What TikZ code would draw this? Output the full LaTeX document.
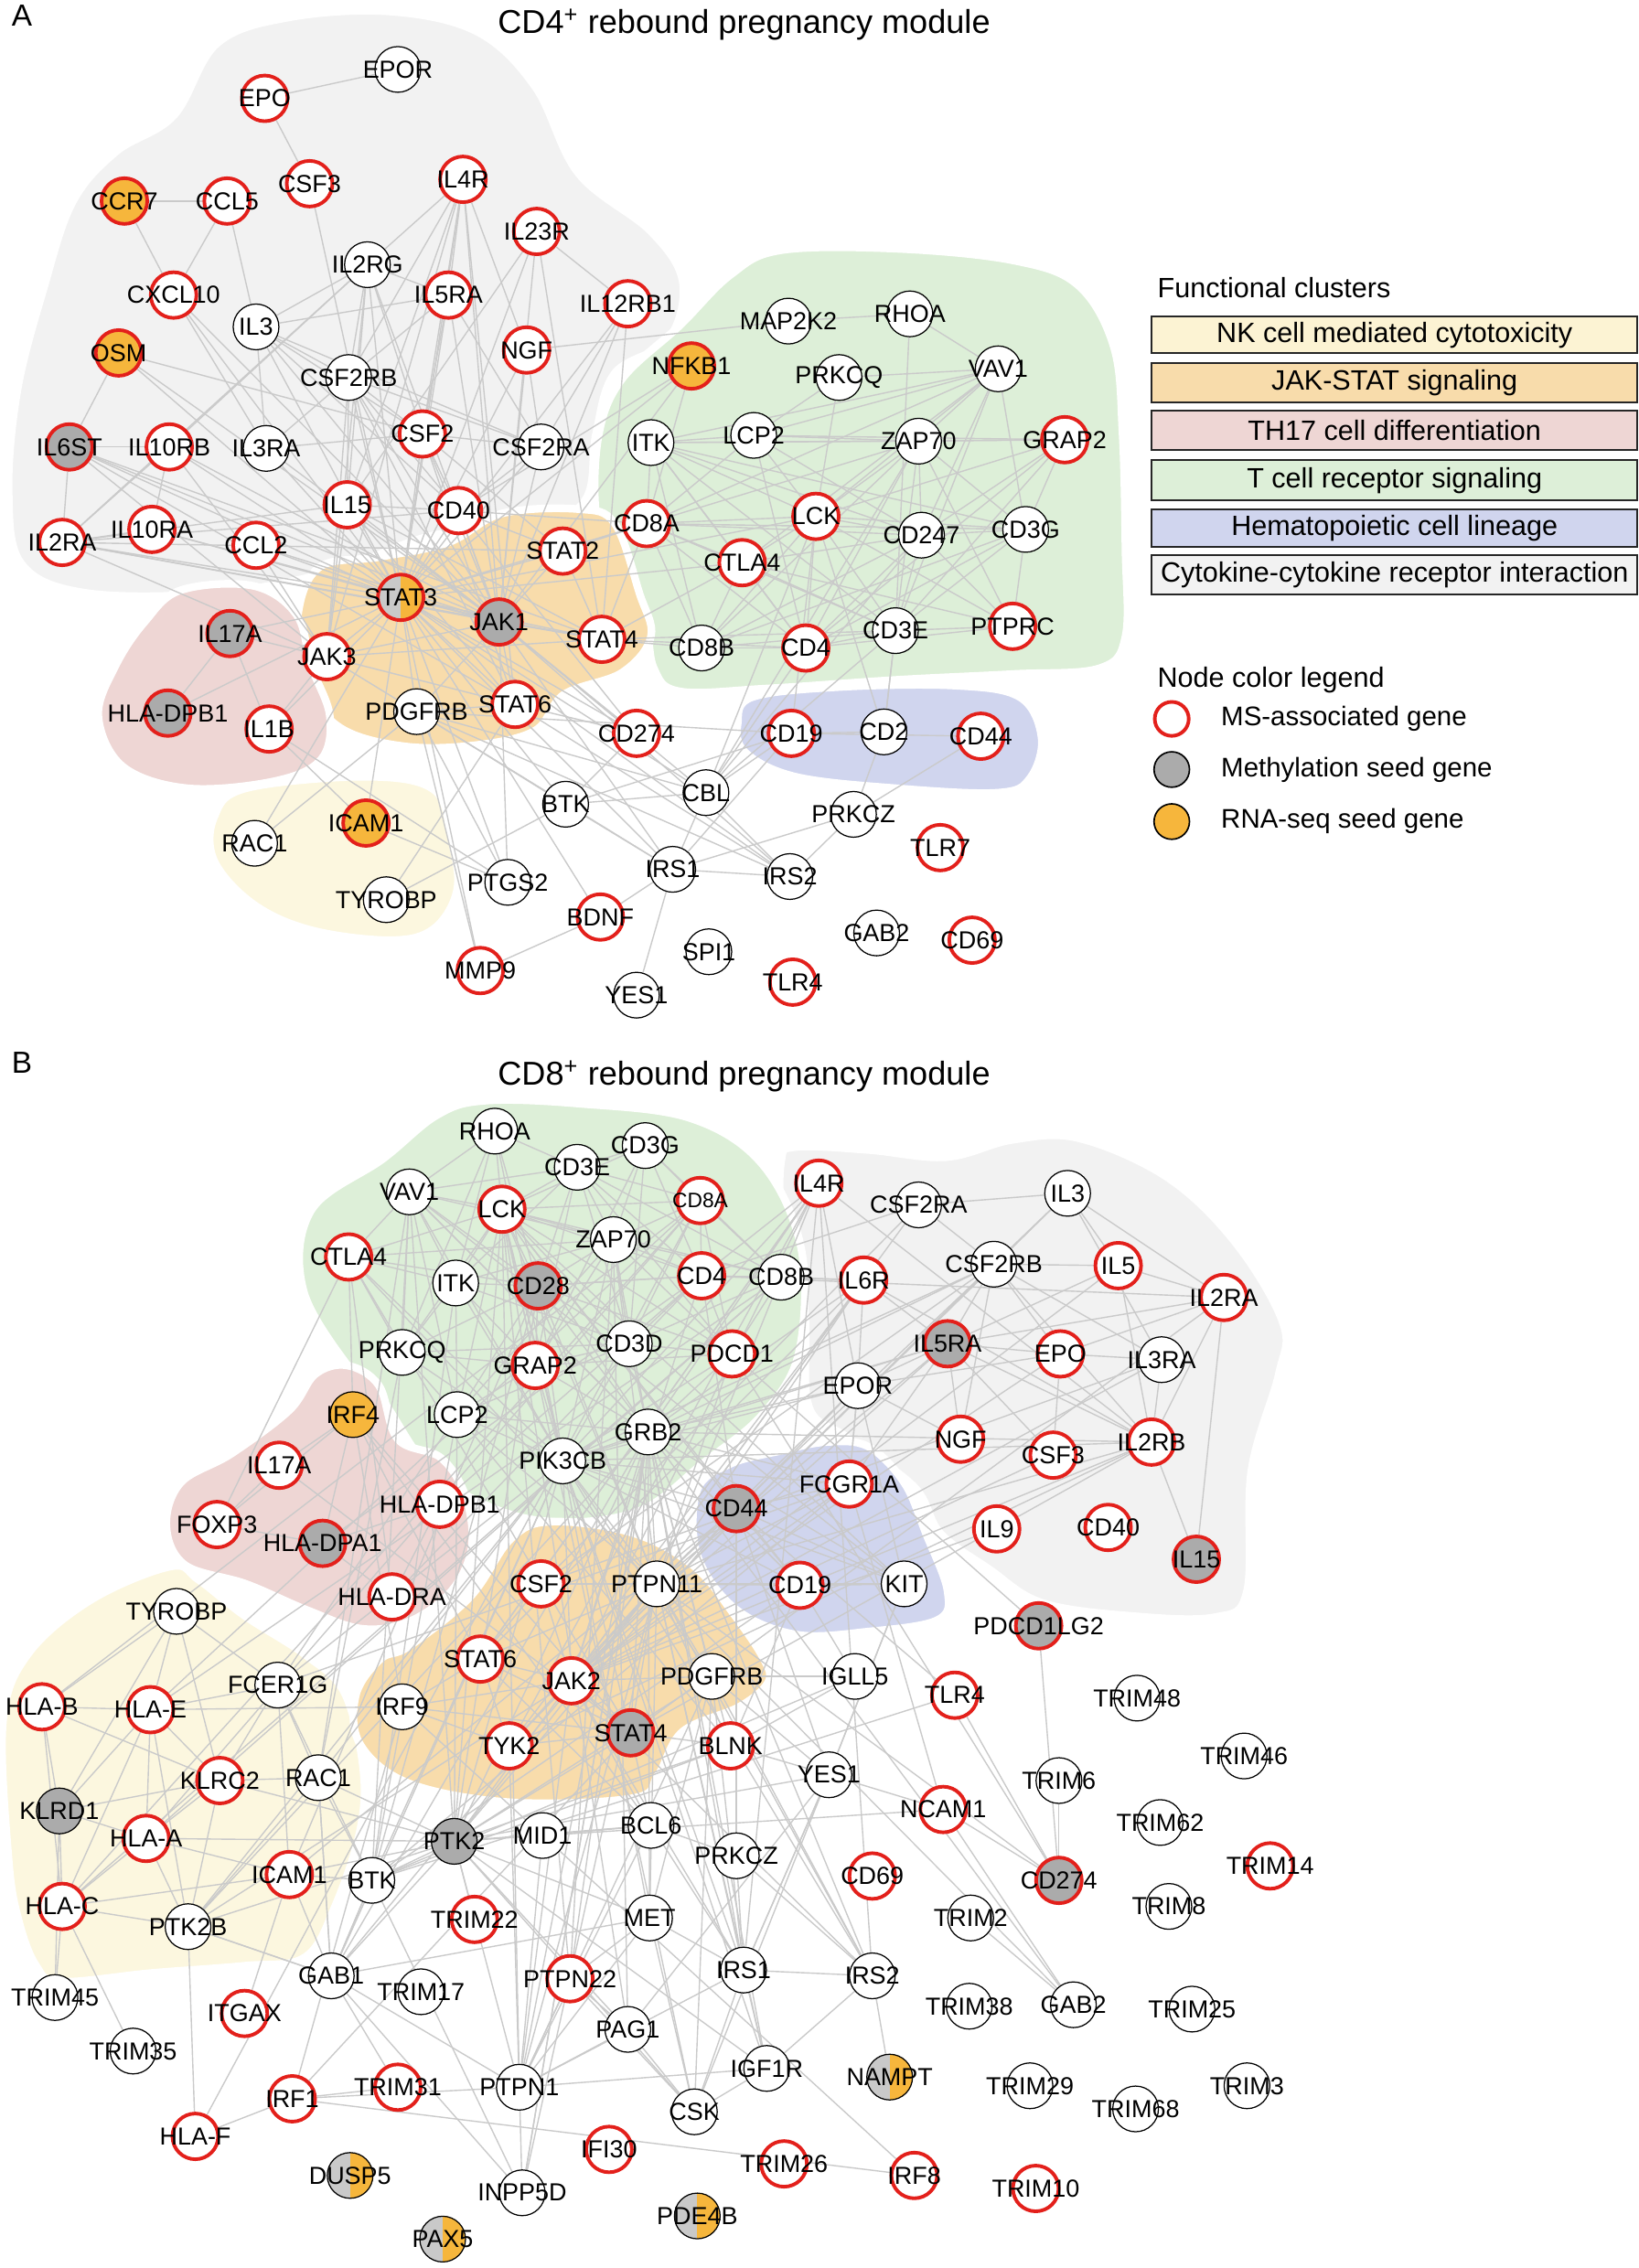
\documentclass[tikz,border=0pt]{standalone}
\usepackage{fontspec}
\setmainfont{Liberation Sans}
\pgfdeclarelayer{blobs}
\pgfdeclarelayer{edges}
\pgfsetlayers{blobs,edges,main}
\definecolor{msred}{HTML}{E3201B}
\definecolor{methgray}{HTML}{ABABAB}
\definecolor{halfgray}{HTML}{C9C9C9}
\definecolor{rnaorange}{HTML}{F6B63C}
\definecolor{edgegray}{HTML}{CACACA}
\definecolor{blobgray}{HTML}{F2F2F2}
\definecolor{blobgreen}{HTML}{DDEFD8}
\definecolor{bloborange}{HTML}{F8DCAB}
\definecolor{blobpink}{HTML}{EED6D4}
\definecolor{blobblue}{HTML}{D0D5EE}
\definecolor{blobyellow}{HTML}{FCF7DF}
\definecolor{boxyellow}{HTML}{FCF3D3}
\newcommand{\glab}[1]{\makebox[0pt][c]{#1}}
\tikzset{
  gn/.style={circle, draw=black, line width=0.45pt, fill=white, minimum size=0.632cm, inner sep=0pt, font=\fontsize{9.7}{11}\selectfont},
  kw/.style={},
  kr/.style={draw=msred, line width=1.4pt},
  kro/.style={draw=msred, line width=1.4pt, fill=rnaorange},
  krm/.style={draw=msred, line width=1.4pt, fill=methgray},
  krh/.style={draw=msred, line width=1.4pt, halfpic},
  km/.style={fill=methgray},
  ko/.style={fill=rnaorange},
  kh/.style={halfpic},
  halfpic/.style={path picture={\fill[halfgray] (path picture bounding box.south west) rectangle (path picture bounding box.north); \fill[rnaorange] (path picture bounding box.south) rectangle (path picture bounding box.north east);}},
  lnk/.style={draw=edgegray, line width=0.5pt},
  blob/.style={draw=white, line width=3pt, line join=round},
  lbox/.style={draw=black!85, line width=0.7pt, minimum width=6.72cm, inner sep=0pt, font=\fontsize{11}{13}\selectfont},
  ltxt/.style={anchor=west, font=\fontsize{10.6}{12}\selectfont},
  ttl/.style={anchor=west, font=\fontsize{13}{15}\selectfont},
}
\begin{document}
\begin{tikzpicture}[x=0.02cm,y=-0.02cm]
\useasboundingbox (0,0) rectangle (1133,1568);
\begin{pgfonlayer}{blobs}
\fill[white] (0,0) rectangle (1133,1568);
% Panel A blobs
\path[blob, fill=blobgray] plot[smooth cycle, tension=0.6] coordinates {(150,30) (200,12) (270,8) (330,22) (370,60) (400,120) (450,160) (472,195) (462,235) (425,258) (412,300) (405,345) (370,365) (300,370) (230,395) (150,410) (60,410) (15,390) (6,340) (12,270) (30,200) (50,140) (80,105) (120,80)};
\path[blob, fill=blobgreen] plot[smooth cycle, tension=0.6] coordinates {(505,190) (540,173) (620,172) (700,180) (745,197) (770,240) (776,300) (778,380) (778,440) (760,462) (700,466) (620,470) (530,476) (470,478) (452,462) (445,425) (425,395) (412,355) (414,300) (430,262) (470,225)};
\path[blob, fill=bloborange] plot[smooth cycle, tension=0.6] coordinates {(206,425) (221,392) (263,385) (310,375) (347,355) (400,352) (425,362) (442,410) (450,440) (430,465) (390,480) (370,505) (330,515) (280,516) (235,503) (210,470)};
\path[blob, fill=blobpink] plot[smooth cycle, tension=0.6] coordinates {(125,408) (175,405) (205,425) (215,460) (228,495) (222,525) (190,540) (130,545) (85,530) (68,495) (80,460) (100,430)};
\path[blob, fill=blobyellow] plot[smooth cycle, tension=0.6] coordinates {(170,545) (253,537) (300,546) (312,580) (316,615) (300,642) (270,650) (215,643) (175,625) (148,595) (148,565)};
\path[blob, fill=blobblue] plot[smooth cycle, tension=0.6] coordinates {(520,482) (580,475) (660,474) (705,482) (720,510) (712,538) (690,548) (620,545) (550,537) (515,520) (510,500)};
% Panel B blobs
\path[blob, fill=blobgray] plot[smooth cycle, tension=0.6] coordinates {(540,803) (550,793) (600,795) (654,800) (700,788) (746,787) (807,814) (854,859) (887,915) (884,950) (865,1017) (862,1100) (840,1118) (780,1117) (720,1108) (684,1085) (650,1060) (632,1028) (586,994) (559,972) (556,904) (541,848)};
\path[blob, fill=blobgreen] plot[smooth cycle, tension=0.6] coordinates {(302,771) (335,761) (400,763) (477,773) (527,805) (554,864) (552,936) (527,978) (488,1010) (438,1046) (365,1050) (302,1020) (265,969) (247,953) (210,893) (215,837) (265,801)};
\path[blob, fill=blobpink] plot[smooth cycle, tension=0.6] coordinates {(218,950) (240,944) (262,958) (275,995) (305,1008) (322,1035) (326,1070) (312,1100) (283,1121) (250,1126) (212,1113) (170,1095) (128,1082) (115,1055) (125,1025) (160,1005) (200,975)};
\path[blob, fill=blobyellow] plot[smooth cycle, tension=0.6] coordinates {(118,1083) (137,1092) (169,1117) (211,1144) (238,1170) (251,1222) (249,1265) (232,1317) (211,1353) (169,1359) (105,1364) (42,1370) (25,1359) (13,1328) (6,1286) (2,1191) (19,1144) (63,1106)};
\path[blob, fill=bloborange] plot[smooth cycle, tension=0.6] coordinates {(353,1064) (381,1052) (438,1060) (480,1083) (508,1117) (528,1147) (531,1163) (511,1180) (472,1197) (455,1227) (438,1243) (353,1246) (283,1233) (249,1206) (246,1172) (263,1147) (283,1138) (325,1104)};
\path[blob, fill=blobblue] plot[smooth cycle, tension=0.6] coordinates {(482,1030) (505,1012) (540,1003) (571,997) (600,1000) (625,1025) (640,1060) (655,1100) (648,1120) (600,1128) (550,1130) (508,1112) (482,1075)};
\end{pgfonlayer}

% Titles
\node[ttl, font=\fontsize{12}{14}\selectfont] (labA) at (2,11) {A};
\node[ttl] (ttlA) at (338,17) {CD4\textsuperscript{+} rebound pregnancy module};
\node[ttl, font=\fontsize{12}{14}\selectfont] (labB) at (2,735) {B};
\node[ttl] (ttlB) at (338,744) {CD8\textsuperscript{+} rebound pregnancy module};

% Legend
\node[anchor=west, font=\fontsize{11}{13}\selectfont] (lfc) at (794,199) {Functional clusters};
\node[lbox, fill=boxyellow, minimum height=0.5cm] (lb1) at (964,231.5) {NK cell mediated cytotoxicity};
\node[lbox, fill=bloborange, minimum height=0.54cm] (lb2) at (964,264.5) {JAK-STAT signaling};
\node[lbox, fill=blobpink, minimum height=0.54cm] (lb3) at (964,297.5) {TH17 cell differentiation};
\node[lbox, fill=blobgreen, minimum height=0.56cm] (lb4) at (964,332) {T cell receptor signaling};
\node[lbox, fill=blobblue, minimum height=0.52cm] (lb5) at (964,365) {Hematopoietic cell lineage};
\node[lbox, fill=blobgray, minimum height=0.54cm] (lb6) at (964,397.5) {Cytokine-cytokine receptor interaction};
\node[anchor=west, font=\fontsize{11}{13}\selectfont] (lnc) at (794,470) {Node color legend};
\node[circle, draw=msred, line width=1.4pt, fill=white, minimum size=0.47cm, inner sep=0pt] (lc1) at (810,497) {};
\node[ltxt] (lt1) at (838,497) {MS-associated gene};
\node[circle, draw=black, line width=0.6pt, fill=methgray, minimum size=0.49cm, inner sep=0pt] (lc2) at (810,532) {};
\node[ltxt] (lt2) at (838,532) {Methylation seed gene};
\node[circle, draw=black, line width=0.6pt, fill=rnaorange, minimum size=0.49cm, inner sep=0pt] (lc3) at (810,568) {};
\node[ltxt] (lt3) at (838,568) {RNA-seq seed gene};

% Panel A nodes
\foreach \n/\x/\y/\st/\lb in {
EPOR/275/48/kw/EPOR, EPO/183/68/kr/EPO, CSF3/214/127/kr/CSF3, IL4R/320/124/kr/IL4R,
CCR7/86/139/kro/CCR7, CCL5/157/139/kr/CCL5, IL23R/371/160/kr/IL23R, IL2RG/254/183/kw/IL2RG,
CXCL10/120/204/kr/CXCL10, IL5RA/310/204/kr/IL5RA, IL12RB1/434/210/kr/IL12RB1, IL3/177/226/kw/IL3,
OSM/82/244/kro/OSM, NGF/364/242/kr/NGF, CSF2RB/241/261/kw/CSF2RB, NFKB1/478/253/kro/NFKB1,
MAP2K2/545/222/kw/MAP2K2, RHOA/629/217/kw/RHOA, PRKCQ/580/261/kw/PRKCQ, VAV1/690/255/kw/VAV1,
IL6ST/48/309/krm/IL6ST, IL10RB/117/309/kr/IL10RB, IL3RA/184/310/kw/IL3RA, CSF2/292/300/kr/CSF2,
CSF2RA/374/309/kw/CSF2RA, ITK/450/306/kw/ITK, LCP2/521/301/kw/LCP2, ZAP70/635/305/kw/ZAP70,
GRAP2/736/304/kr/GRAP2, IL15/240/349/kr/IL15, CD40/317/353/kr/CD40, IL2RA/43/375/kr/IL2RA,
IL10RA/105/366/kr/IL10RA, CCL2/177/377/kr/CCL2, CD8A/447/362/kr/CD8A, LCK/564/357/kr/LCK,
CD247/637/370/kw/CD247, CD3G/709/366/kw/CD3G, STAT2/389/381/kr/STAT2, CTLA4/513/389/kr/CTLA4,
STAT3/277/413/krh/STAT3, JAK1/345/430/krm/JAK1, IL17A/159/438/krm/IL17A, STAT4/416/442/kr/STAT4,
CD3E/619/436/kw/CD3E, PTPRC/700/433/kr/PTPRC, CD8B/485/448/kw/CD8B, CD4/557/448/kr/CD4,
JAK3/226/454/kr/JAK3, HLADPB1/116/493/krm/HLA-DPB1, IL1B/186/504/kr/IL1B, PDGFRB/288/492/kw/PDGFRB,
STAT6/356/487/kr/STAT6, CD274/440/507/kr/CD274, CD19/547/507/kr/CD19, CD2/611/506/kw/CD2,
CD44/678/509/kr/CD44, BTK/391/556/kw/BTK, CBL/488/548/kw/CBL, PRKCZ/590/563/kw/PRKCZ,
TLR7/650/586/kr/TLR7, RAC1/176/583/kw/RAC1, ICAM1/253/569/kro/ICAM1, IRS1/465/601/kw/IRS1,
IRS2/546/606/kw/IRS2, PTGS2/351/610/kw/PTGS2, TYROBP/267/622/kw/TYROBP, BDNF/415/634/kr/BDNF,
GAB2/606/645/kw/GAB2, CD69/672/650/kr/CD69, SPI1/490/658/kw/SPI1, MMP9/332/671/kr/MMP9,
TLR4/548/679/kr/TLR4, YES1/440/688/kw/YES1}
{\node[gn,\st] (a\n) at (\x,\y) {\glab{\lb}};}

% Panel B nodes
\foreach \n/\x/\y/\st/\lb in {
RHOA/342/782/kw/RHOA, CD3G/446/792/kw/CD3G, CD3E/399/807/kw/CD3E, VAV1/283/824/kw/VAV1,
LCK/347/836/kr/LCK, IL4R/566/818/kr/IL4R, CSF2RA/635/833/kw/CSF2RA, IL3/738/825/kw/IL3,
ZAP70/424/857/kw/ZAP70, CTLA4/241/869/kr/CTLA4, ITK/315/887/kw/ITK, CD28/372/889/krm/CD28,
CD4/485/882/kr/CD4, CD8B/540/883/kw/CD8B, IL6R/597/885/kr/IL6R, CSF2RB/687/874/kw/CSF2RB,
IL5/773/875/kr/IL5, IL2RA/846/897/kr/IL2RA, PRKCQ/278/935/kw/PRKCQ, GRAP2/370/944/kr/GRAP2,
CD3D/435/929/kw/CD3D, PDCD1/506/936/kr/PDCD1, IL5RA/655/929/krm/IL5RA, EPO/733/936/kr/EPO,
IL3RA/803/940/kw/IL3RA, EPOR/593/958/kw/EPOR, IRF4/244/978/ko/IRF4, LCP2/316/978/kw/LCP2,
GRB2/448/990/kw/GRB2, NGF/664/995/kr/NGF, CSF3/728/1006/kr/CSF3, IL2RB/796/997/kr/IL2RB,
PIK3CB/389/1010/kw/PIK3CB, IL17A/193/1013/kr/IL17A, HLADPB1/304/1040/kr/HLA-DPB1, FCGR1A/587/1026/kr/FCGR1A,
CD44/509/1043/krm/CD44, FOXP3/150/1054/kr/FOXP3, HLADPA1/223/1067/krm/HLA-DPA1, IL9/689/1057/kr/IL9,
CD40/766/1056/kr/CD40, IL15/827/1078/krm/IL15, CSF2/374/1095/kr/CSF2, PTPN11/454/1095/kw/PTPN11,
CD19/553/1096/kr/CD19, KIT/625/1095/kw/KIT, TYROBP/122/1114/kw/TYROBP, HLADRA/271/1104/kr/HLA-DRA,
PDCD1LG2/718/1124/krm/PDCD1LG2, STAT6/332/1147/kr/STAT6, JAK2/395/1162/kr/JAK2, PDGFRB/492/1159/kw/PDGFRB,
IGLL5/591/1159/kw/IGLL5, TLR4/660/1172/kr/TLR4, TRIM48/786/1174/kw/TRIM48, HLAB/29/1180/kr/HLA-B,
HLAE/104/1182/kr/HLA-E, FCER1G/192/1165/kw/FCER1G, IRF9/278/1180/kw/IRF9, TYK2/352/1207/kr/TYK2,
STAT4/436/1198/krm/STAT4, BLNK/505/1207/kr/BLNK, TRIM46/860/1214/kw/TRIM46, YES1/573/1227/kw/YES1,
TRIM6/732/1231/kw/TRIM6, KLRC2/152/1231/kr/KLRC2, RAC1/220/1229/kw/RAC1, NCAM1/652/1251/kr/NCAM1,
TRIM62/802/1260/kw/TRIM62, KLRD1/41/1252/km/KLRD1, HLAA/101/1271/kr/HLA-A, PTK2/314/1273/km/PTK2,
MID1/375/1269/kw/MID1, BCL6/450/1262/kw/BCL6, PRKCZ/509/1283/kw/PRKCZ, CD69/603/1297/kr/CD69,
CD274/732/1300/krm/CD274, TRIM14/878/1290/kr/TRIM14, ICAM1/200/1296/kr/ICAM1, BTK/257/1300/kw/BTK,
HLAC/43/1318/kr/HLA-C, PTK2B/130/1332/kw/PTK2B, TRIM22/328/1327/kr/TRIM22, MET/449/1326/kw/MET,
TRIM2/671/1326/kw/TRIM2, TRIM8/808/1318/kw/TRIM8, GAB1/229/1366/kw/GAB1, TRIM45/38/1381/kw/TRIM45,
TRIM17/291/1377/kw/TRIM17, PTPN22/394/1368/kr/PTPN22, IRS1/514/1362/kw/IRS1, IRS2/603/1366/kw/IRS2,
TRIM38/670/1387/kw/TRIM38, GAB2/742/1386/kw/GAB2, TRIM25/824/1389/kw/TRIM25, ITGAX/169/1392/kr/ITGAX,
TRIM35/92/1418/kw/TRIM35, PAG1/434/1403/kw/PAG1, IGF1R/530/1430/kw/IGF1R, NAMPT/615/1436/kh/NAMPT,
TRIM29/712/1442/kw/TRIM29, TRIM3/862/1442/kw/TRIM3, IRF1/202/1451/kr/IRF1, TRIM31/275/1443/kr/TRIM31,
PTPN1/359/1443/kw/PTPN1, CSK/480/1460/kw/CSK, TRIM68/785/1458/kw/TRIM68, HLAF/135/1477/kr/HLA-F,
IFI30/421/1486/kr/IFI30, DUSP5/242/1504/kh/DUSP5, TRIM26/542/1496/kr/TRIM26, IRF8/632/1504/kr/IRF8,
TRIM10/716/1513/kr/TRIM10, INPP5D/361/1516/kw/INPP5D, PDE4B/482/1532/kh/PDE4B, PAX5/306/1548/kh/PAX5}
{\node[gn,\st] (b\n) at (\x,\y) {\glab{\lb}};}
\node[gn,kr,font=\fontsize{8.2}{9}\selectfont] (bCD8A) at (484,830) {\glab{CD8A}};

\begin{pgfonlayer}{edges}
% Panel A edges
\foreach \s/\tl in {
EPO/{EPOR,CSF3}, CCR7/{CCL5,CXCL10}, CCL5/{CXCL10,IL3}, CSF3/{STAT3},
IL4R/{IL2RG,IL5RA,NGF,CSF2,STAT6,JAK1,JAK3,STAT3,IL15,CSF2RB},
IL23R/{IL12RB1,STAT3,STAT4,JAK1,IL15},
IL2RG/{IL3,CSF2RB,IL10RB,IL15,IL2RA,JAK1,JAK3,STAT3,IL5RA,CSF2},
IL5RA/{IL3,CSF2RB,CSF2,JAK1,STAT3,CSF2RA},
IL12RB1/{STAT4,STAT3,JAK1,CSF2RA}, NGF/{MAP2K2,STAT3,JAK1,CSF2RA},
CXCL10/{IL3RA,STAT3,JAK1}, IL3/{CSF2RB,IL3RA,CSF2RA,CSF2,STAT3,JAK1,CD40},
OSM/{IL6ST,STAT3,JAK1,CSF2}, CSF2RB/{CSF2,CSF2RA,IL3RA,IL15,STAT3,JAK1,JAK3,CD40,STAT6},
IL6ST/{STAT3,JAK1,JAK3,STAT6,IL2RA,STAT4,IL10RB}, IL10RB/{IL10RA,JAK1,STAT3,IL2RA,JAK3},
IL3RA/{CSF2,STAT3,JAK1}, CSF2/{CSF2RA,CD40,STAT3,JAK1,STAT6,STAT2}, CSF2RA/{STAT3,JAK1,CD40},
IL15/{STAT3,JAK1,JAK3,IL2RA,CD40,STAT6,STAT4}, IL10RA/{IL2RA,STAT3,JAK1},
IL2RA/{STAT3,JAK1,JAK3,STAT4,CD40,STAT2}, CCL2/{STAT3,JAK1,JAK3},
CD40/{STAT3,JAK1,STAT2,NFKB1,CD8A,CD274}, STAT2/{JAK1,STAT3,STAT4,CD8A},
STAT3/{JAK1,JAK3,STAT4,STAT6,PDGFRB,IL17A,IL1B,NFKB1,CTLA4,CD274,ICAM1,RAC1,MMP9,PTGS2,BDNF,IRS1,IRS2,CBL,BTK,HLADPB1,CD8A,LCK},
JAK1/{JAK3,STAT4,STAT6,PDGFRB,IRS1,IRS2,CBL,PTGS2,NFKB1,CD274},
JAK3/{STAT6,STAT4,PDGFRB,IL17A,IL1B}, STAT4/{CD8A,CD4,CTLA4,CD3E,CD8B},
STAT6/{PDGFRB,CD274,IRS2,TYROBP}, PDGFRB/{IRS1,IRS2,CBL,PTGS2,MMP9,RAC1,BTK,CD19},
IL17A/{IL1B,HLADPB1}, IL1B/{PTGS2,ICAM1}, ICAM1/{PTGS2}, TYROBP/{BTK},
BTK/{CBL,CD19,IRS1,CD274}, CBL/{CD19,IRS1,IRS2,LCK,ZAP70,CD3E,CD4,CD247},
IRS1/{IRS2,PRKCZ,YES1,BDNF,CD19}, IRS2/{PRKCZ}, PRKCZ/{CD44,CD2}, BDNF/{MMP9},
LCK/{CD4,CD8A,CD8B,CD247,CD3E,CD3G,ZAP70,ITK,LCP2,VAV1,CTLA4,PTPRC,CD2,PRKCQ,GRAP2,CD19},
ZAP70/{CD247,CD3E,CD3G,LCP2,ITK,VAV1,GRAP2,CD4,CD8A,PTPRC,CD8B},
LCP2/{GRAP2,ITK,VAV1,PRKCQ,CD247,CD8A,CD4}, VAV1/{RHOA,ITK,CD247,CD3E,CD3G,PRKCQ,CD8A,CTLA4},
RHOA/{MAP2K2,CD3E}, ITK/{CD247,CD3E,CD4,CD8A,CD8B,CTLA4,CD3G,GRAP2},
CD8A/{CD8B,CD4,CD3E,CD3G,CD247,CTLA4}, CTLA4/{CD4,CD8B,CD3E,CD247,PTPRC},
CD247/{CD3E,CD3G,CD4,CD8B,PTPRC,GRAP2}, CD3G/{CD3E,CD4,CD8B,PTPRC,GRAP2},
CD3E/{CD4,CD8B,PTPRC,CD2}, CD4/{CD8B,PTPRC}, GRAP2/{CD4,CD3E}, NFKB1/{CD8A},
CD19/{CD2,CD44}, CD2/{CD3E}}
{\foreach \t in \tl {\draw[lnk] (a\s) -- (a\t);}}
% Panel B edges
\foreach \s/\tl in {
LCK/{CD4,CD8A,CD8B,CD3E,CD3G,CD3D,ZAP70,ITK,CD28,VAV1,LCP2,GRAP2,PRKCQ,CTLA4,PDCD1,PTPN11,PIK3CB,GRB2,CSK,PAG1,PTPN22,CD44,CD19,RHOA,PTK2,STAT4,PTPN1,KIT},
ZAP70/{CD3E,CD3G,CD3D,CD4,CD8A,CD8B,LCP2,GRAP2,ITK,VAV1,CD28,PTPN22,GRB2,PIK3CB,CTLA4,PTPN11,PDCD1,PAG1},
VAV1/{RHOA,LCP2,ITK,CD28,GRB2,PIK3CB,CTLA4,PRKCQ,CD3E,CD19,KIT,RAC1,BTK,PTK2},
RHOA/{ITK,CD3E,PIK3CB,PRKCQ,CD28}, CD3E/{CD3G,CD3D,CD4,CD8A,CD8B,CD28,ITK,GRAP2,PDCD1},
CD3G/{CD3D,CD4,CD8A,CD8B,GRAP2}, CD8A/{CD8B,CD4,CD3D,PDCD1,HLAA,HLAB,HLAC,HLAE,HLAF},
CD4/{CD8B,CD3D,PDCD1,CD28,IL6R,IL4R,HLADRA,HLADPA1,HLADPB1,IL2RA,JAK2,CD44,CSF2RA},
CD8B/{CD3D,PDCD1,HLAA,HLAC,HLAE,IL6R}, ITK/{CD28,LCP2,GRAP2,PRKCQ,CTLA4,PIK3CB,CD3D,BTK},
CD28/{PIK3CB,GRB2,CTLA4,PTPN11,PRKCQ,GRAP2,CD3D,LCP2,CD4,PDCD1,BTK,PTK2,ICAM1},
CTLA4/{PIK3CB,PTPN11,PRKCQ,FOXP3,STAT4,IRF4,HLADRA}, PRKCQ/{LCP2,GRAP2,PIK3CB,CD3D,RAC1},
GRAP2/{LCP2,CD3D,PIK3CB,GRB2,PDCD1}, CD3D/{PDCD1,GRB2,PIK3CB,LCP2},
PDCD1/{PTPN11,GRB2,PIK3CB,PDCD1LG2,CD274}, LCP2/{GRB2,PIK3CB,PTPN11,BLNK,FCER1G,BTK,PTK2},
GRB2/{PIK3CB,PTPN11,IRS1,IRS2,GAB1,MET,PTK2,PTK2B,KIT,IL5RA,EPOR,PDGFRB,BLNK,IGF1R,CSF2RB,IL6R,FCGR1A,CD19,PTPN1,PTPN22,INPP5D,IL2RB,IL4R,JAK2,STAT4,GAB2},
PIK3CB/{CD19,KIT,PDGFRB,IRS1,IRS2,GAB1,MET,PTK2,IGF1R,CSF2RB,EPOR,JAK2,PTPN11,FCGR1A,IL4R,BTK,IL2RB,PTK2B,RAC1,CD44,IL5RA,FCER1G},
JAK2/{STAT4,STAT6,TYK2,PTPN11,CSF2,CSF2RB,CSF2RA,IL3RA,IL5RA,EPOR,IL6R,IL4R,IL2RB,IL3,IRF9,PDGFRB,IRS1,IRS2,PTK2,PTK2B,FCGR1A,IL9,PTPN1,EPO,IL5,CSF3,BCL6},
TYK2/{STAT4,STAT6,IRF9,PTPN11,IL6R,IL4R,PTPN1,IL2RB},
STAT4/{STAT6,IRF9,PTPN11,IL2RB,PTK2,BCL6,IRF4,IRF1,IL2RA,BLNK},
STAT6/{IRF9,IL4R,BCL6,IRF4,CSF2,IL6R,PTPN11},
PTPN11/{CSF2,CSF2RB,IL6R,IL5RA,EPOR,KIT,PDGFRB,IRS1,IRS2,GAB1,MET,PTK2,IGF1R,FCGR1A,CD19,BLNK,GAB2,IL2RB,IL4R,CD274,PTPN1},
CSF2/{CSF2RA,CSF2RB,IL3RA}, IRF9/{IRF1,IRF8,IRF4,HLAE}, BLNK/{CD19,BTK,IGLL5,YES1,PTK2},
PDGFRB/{IRS1,IRS2,PTK2,YES1,PTPN1,CSK,MET,IGLL5}, IGLL5/{CD19,BTK},
YES1/{CD44,KIT,IRS1,PAG1,CSK,NCAM1,PTK2}, KIT/{CD19,CD44,YES1}, CD19/{CD44,BTK,KIT},
CD44/{FCGR1A,ICAM1,PTK2}, FCGR1A/{FCER1G,IL5RA,EPOR,BTK}, IL4R/{STAT6,IL2RB,IRS1,IRS2,EPOR},
CSF2RA/{IL3,CSF2RB}, IL3/{CSF2RB,IL3RA,IL5,IL2RA}, IL6R/{IL5RA,EPOR,IL2RB},
CSF2RB/{IL5,IL5RA,IL3RA,EPO,IL2RB,NGF}, IL5/{IL5RA,IL2RA,IL2RB}, IL2RA/{IL2RB,IL15,IL5RA,EPO},
IL5RA/{EPOR,NGF,IL2RB,CSF3,EPO}, EPO/{EPOR,IL3RA,CSF3}, EPOR/{KIT,FCGR1A,NGF},
IL3RA/{IL2RB}, IL2RB/{IL15}, PDCD1LG2/{CD274}, CD274/{TLR4,NCAM1,TRIM6},
NCAM1/{GAB2,PTK2,FCGR1A}, TLR4/{CD44,BTK},
PTK2/{PTK2B,GAB1,BTK,MET,IGF1R,PAG1,CSK,RAC1,ICAM1,PTPN1,BCL6,TRIM22,KLRC2,HLAA},
MID1/{BCL6,PTPN1}, BCL6/{PRKCZ,IRS1,PTPN1,MET,IRF4}, PRKCZ/{IRS1,IRS2,CD44},
MET/{GAB1,PTPN1,IRS1,CSK,PTPN22}, IRS1/{IRS2,IGF1R,PTPN1,CSK,YES1}, IRS2/{IGF1R,NAMPT},
GAB1/{PTK2B,INPP5D,PTPN1,BTK,RAC1}, PTPN22/{CSK,PTPN1,PAG1}, PAG1/{CSK,PTPN1},
IGF1R/{PTPN1,CSK}, PTPN1/{INPP5D,IRF1}, INPP5D/{BTK,PTPN11,GRB2},
IRF1/{TRIM31,IRF8,HLAF}, ITGAX/{ICAM1}, HLAF/{PTK2B}, TRIM35/{HLAC}, TRIM45/{HLAC,KLRD1},
TRIM31/{GAB1}, TYROBP/{HLAB,HLAE,KLRC2,FCER1G,KLRD1},
HLAB/{HLAE,KLRD1,HLAC,KLRC2}, HLAE/{KLRD1,KLRC2,HLAA,HLAC,FCER1G,PTK2B},
KLRD1/{KLRC2,HLAA,HLAC}, KLRC2/{HLAA,FCER1G,RAC1,PTK2B}, HLAA/{HLAC,PTK2B,ICAM1},
FCER1G/{RAC1,BTK,ICAM1}, RAC1/{BTK,GAB1,PTK2B}, ICAM1/{HLAC,BTK,GAB1},
HLAC/{PTK2B}, PTK2B/{GAB1}, BTK/{GAB1}, IRF4/{FOXP3,HLADPA1},
HLADPB1/{HLADPA1,HLADRA}, HLADPA1/{HLADRA,FOXP3}, FOXP3/{IL17A}, IL17A/{STAT4,IRF4},
TRIM2/{GAB2}}
{\foreach \t in \tl {\draw[lnk] (b\s) -- (b\t);}}
\end{pgfonlayer}
\end{tikzpicture}
\end{document}
